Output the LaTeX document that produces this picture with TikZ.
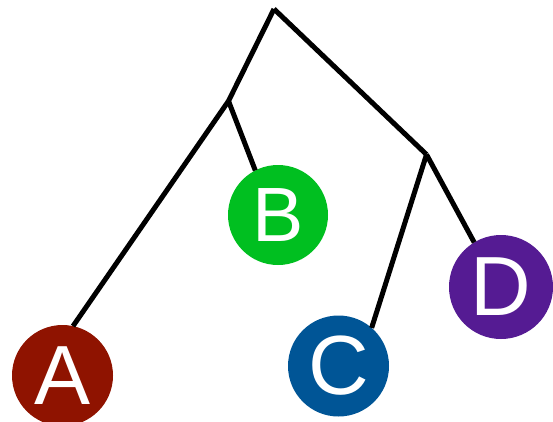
\documentclass[tikz,border=0pt]{standalone}
\usepackage{fontspec}
\setmainfont{Liberation Sans}
\definecolor{cA}{HTML}{8F1300}
\definecolor{cB}{HTML}{00BF20}
\definecolor{cC}{HTML}{005596}
\definecolor{cD}{HTML}{551B93}
\begin{document}
\begin{tikzpicture}[x=1pt,y=-1pt,
  leaf/.style={circle,minimum size=101pt,inner sep=0pt,outer sep=0pt,text=white,font=\fontsize{84}{84}\selectfont},
  edge/.style={line width=5pt,black}]
\useasboundingbox (0,0) rectangle (553,421);
\coordinate (r) at (274,9);
\coordinate (n1) at (228.5,101);
\coordinate (n2) at (426.5,154.5);
\draw[edge] (r) -- (n1);
\draw[edge] (r) -- (n2);
\node[leaf,fill=cA] (A) at (62.5,375.5) {A};
\node[leaf,fill=cB,minimum size=100pt,font=\fontsize{77}{77}\selectfont] (B) at (278,215) {B};
\node[leaf,fill=cC] (C) at (338.5,366) {C};
\node[leaf,fill=cD,minimum size=104pt] (D) at (501,287) {D};
\draw[edge] (n1) -- (A.78);
\draw[edge] (n1) -- (B.117);
\draw[edge] (n2) -- (C.49);
\draw[edge] (n2) -- (D.121);
\end{tikzpicture}
\end{document}
